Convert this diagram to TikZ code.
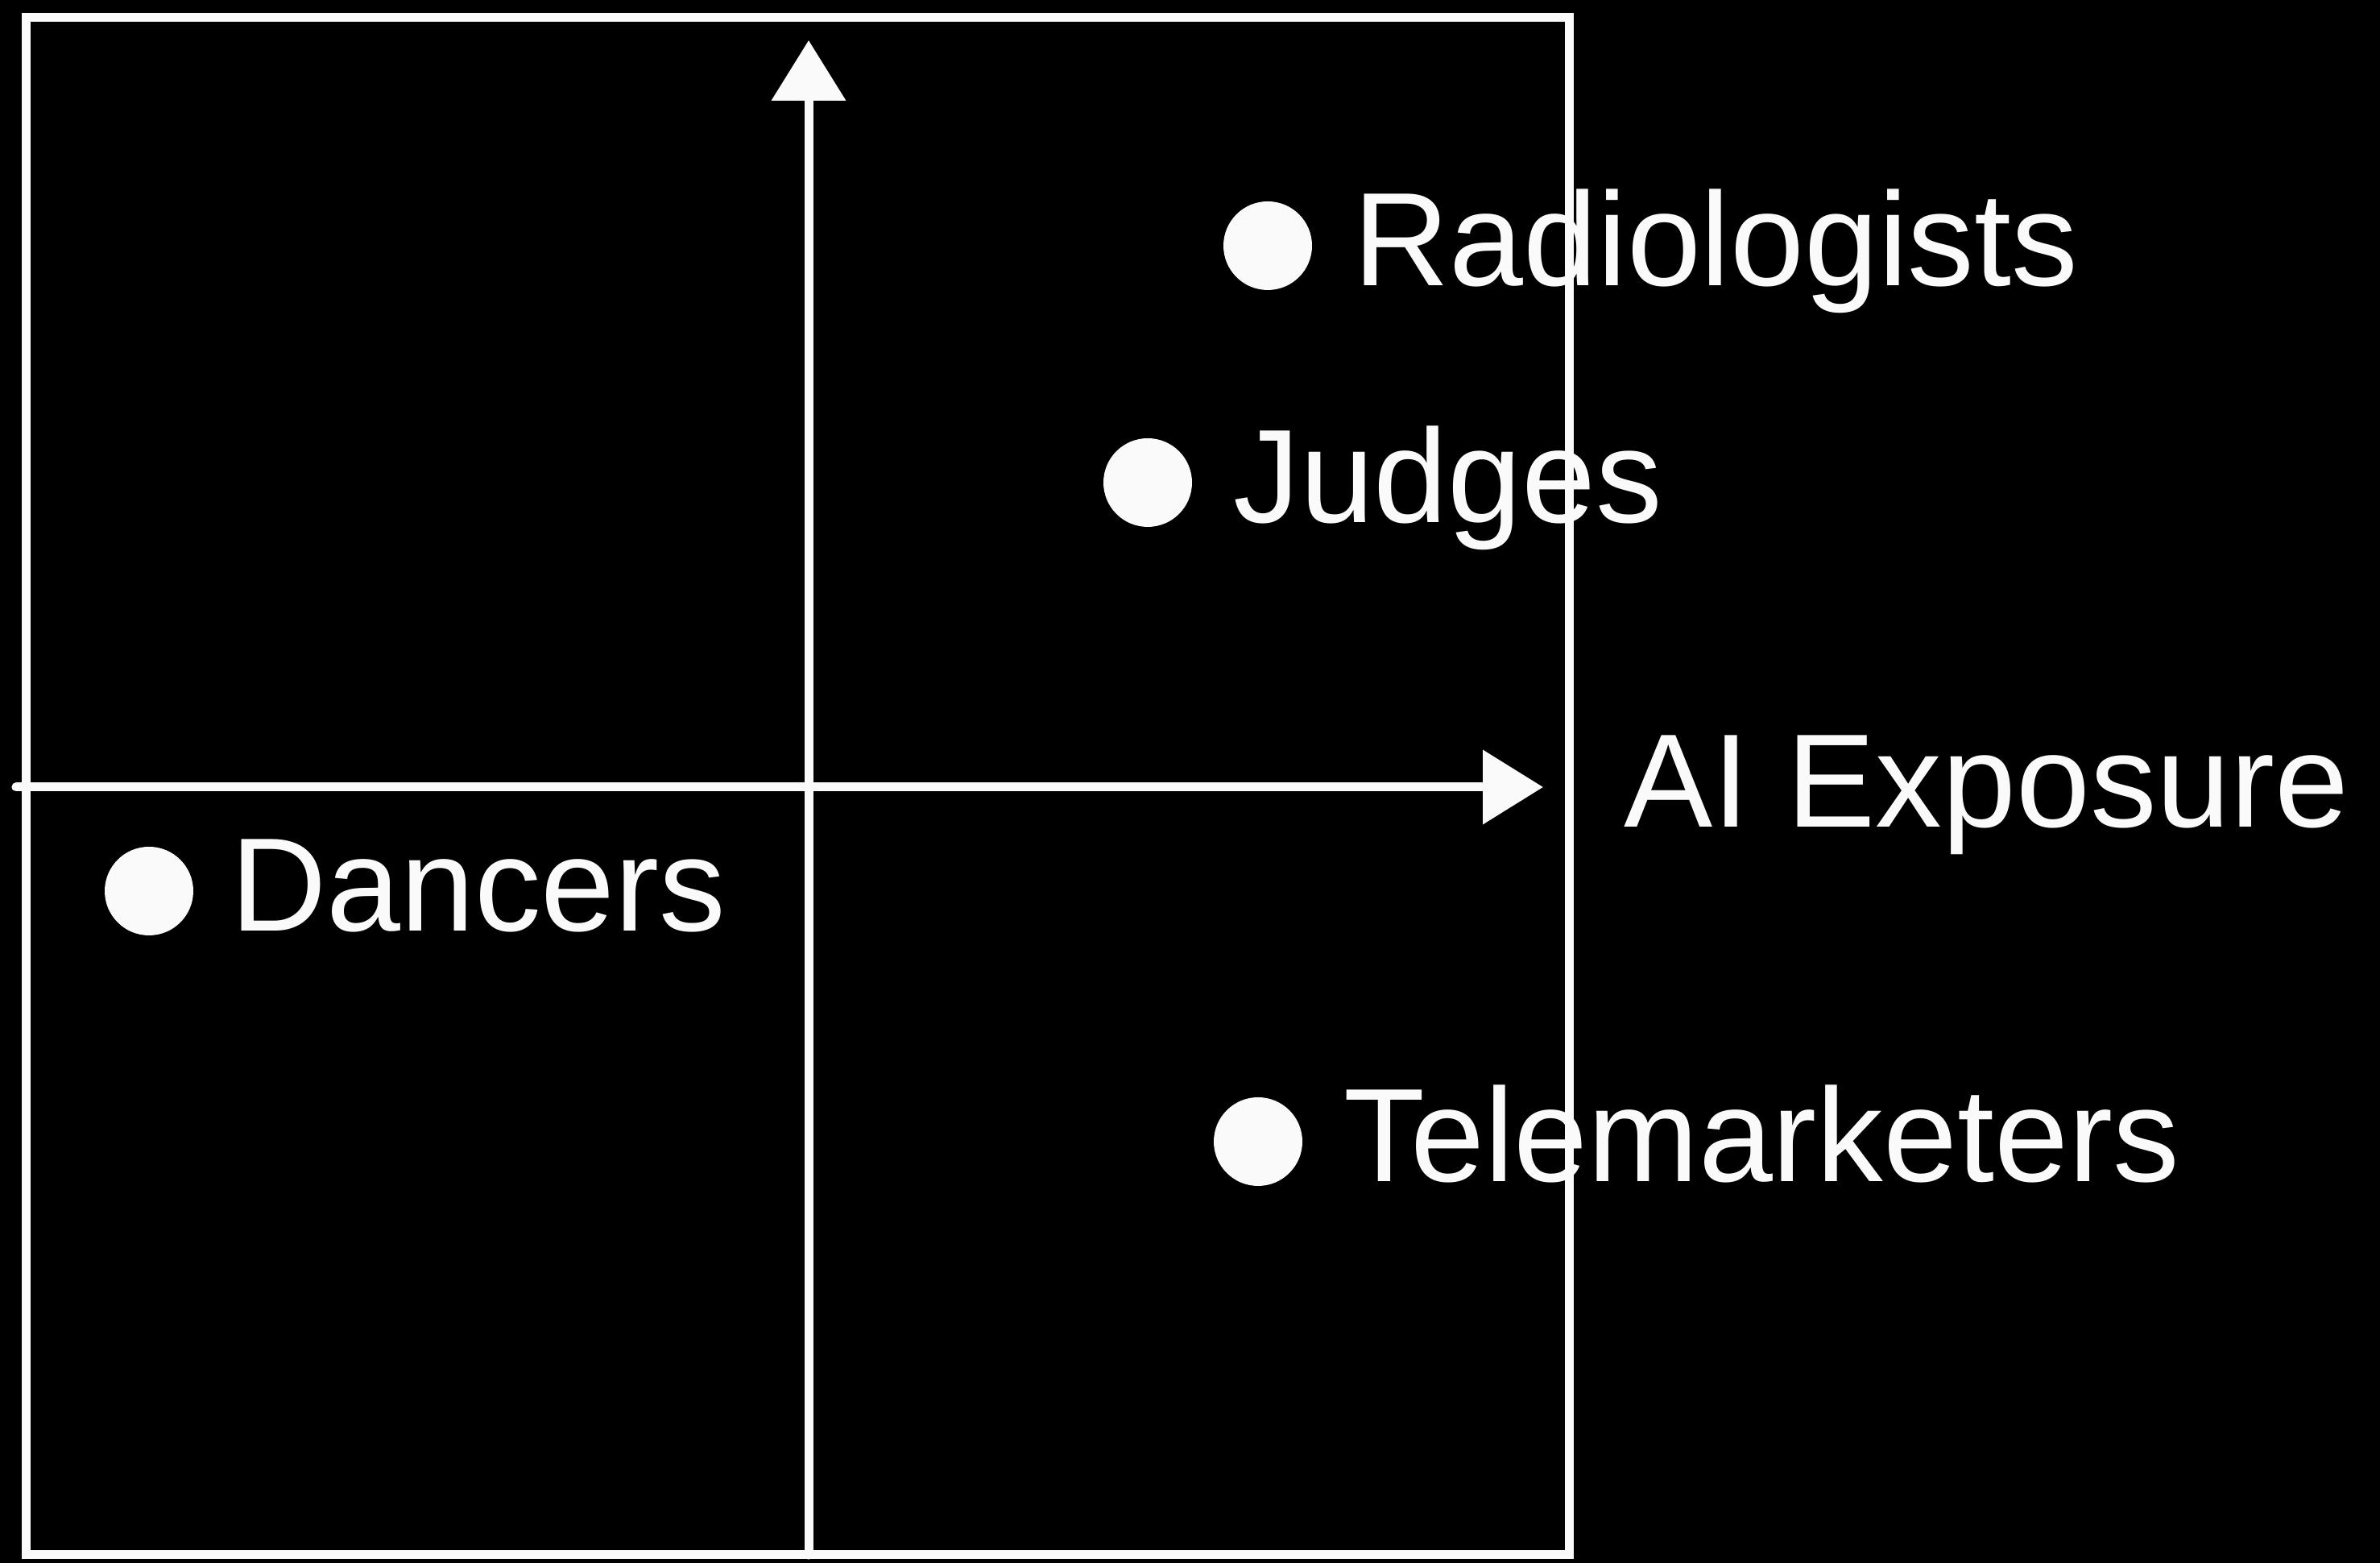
\documentclass[tikz,border=0pt]{standalone}
\usepackage{fontspec}
\setmainfont{Liberation Sans}
\usetikzlibrary{arrows.meta,positioning,calc}
\definecolor{chalk}{HTML}{FAFAFA}
\definecolor{board}{HTML}{000000}
\tikzset{
  ln/.style={draw=chalk,line width=1.1mm,line cap=round},
  ax/.style={ln,-{Triangle[length=7.5mm,width=9mm]}},
  dot/.style={circle,fill=chalk,minimum size=11mm,inner sep=0pt},
  lbl/.style={text=chalk,inner sep=0pt,font=\fontsize{47}{56}\selectfont,text height=36pt,text depth=8pt}
}
\begin{document}
\begin{tikzpicture}
\fill[board] (0,0) rectangle (29.55,19.40);
\useasboundingbox (0,0) rectangle (29.55,19.40);
% frame
\coordinate (bl) at (0.32,0.10); \coordinate (tr) at (19.48,19.18);
\draw[ln] (bl) rectangle (tr);
% axes
\coordinate (y0) at (10.04,0.10); \coordinate (y1) at (10.04,18.90);
\coordinate (x0) at (0.20,9.63); \coordinate (x1) at (19.16,9.63);
\draw[ax] (y0) -- (y1);
\draw[ax] (x0) -- (x1);
\node[lbl,right=1.0cm of x1] (xlab) {AI Exposure};
% jobs
\node[dot] (rad) at (15.74,16.35) {};
\node[dot] (jud) at (14.25,13.41) {};
\node[dot] (dan) at (1.85,8.34) {};
\node[dot] (tel) at (15.62,5.23) {};
\node[lbl,right=0.5cm of rad] {Radiologists};
\node[lbl,right=0.5cm of jud] {Judges};
\node[lbl,right=0.45cm of dan] {Dancers};
\node[lbl,right=0.5cm of tel] {Telemarketers};
\end{tikzpicture}
\end{document}
